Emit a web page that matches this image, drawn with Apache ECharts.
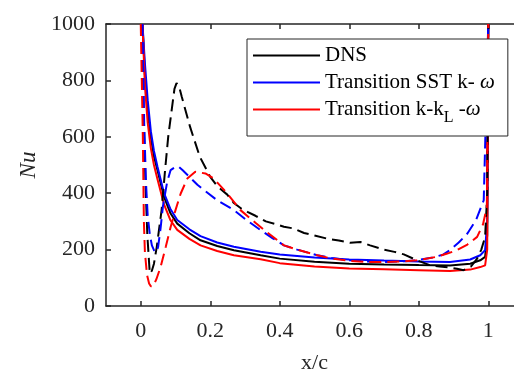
<!DOCTYPE html>
<html><head><meta charset="utf-8">
<script src="https://cdn.jsdelivr.net/npm/echarts@6/dist/echarts.min.js"></script>
<style>html,body{margin:0;padding:0;background:#fff}#c{width:514px;height:369px}</style>
</head><body><div id="c"></div>
<script>
// ---- data (x/c, Nu) ----
const xTicks = [0, 0.2, 0.4, 0.6, 0.8, 1];
const yTicks = [0, 200, 400, 600, 800, 1000];
const legendNames = ['DNS', 'Transition SST k-ω', 'Transition k-kL-ω'];

// solid curves (pressure side)
const solidX = [0.005, 0.012, 0.02, 0.029, 0.038, 0.048, 0.067, 0.085, 0.105, 0.14, 0.172, 0.22, 0.268, 0.345, 0.4, 0.5, 0.6, 0.7, 0.8, 0.89, 0.948, 0.977, 0.991, 0.997, 1.0];
const dnsSolid = [1000, 820, 690, 600, 530, 482, 387, 330, 292, 258, 233, 213, 198, 180, 168, 157, 150, 147, 145, 144, 150, 162, 174, 250, 1000];
const sstSolid = [1000, 860, 730, 620, 550, 495, 400, 345, 305, 272, 248, 225, 210, 192, 183, 172, 165, 161, 158, 156, 165, 180, 198, 300, 1000];
const kklSolid = [1000, 780, 650, 560, 500, 450, 360, 305, 270, 238, 215, 195, 180, 166, 152, 140, 133, 130, 127, 124, 129, 138, 144, 200, 1000];

// dashed curves (suction side)
const dnsDashX = [0.003, 0.008, 0.014, 0.019, 0.026, 0.032, 0.038, 0.046, 0.06, 0.07, 0.079, 0.089, 0.097, 0.103, 0.11, 0.118, 0.142, 0.17, 0.2, 0.22, 0.249, 0.268, 0.29, 0.307, 0.33, 0.36, 0.39, 0.412, 0.44, 0.47, 0.5, 0.536, 0.57, 0.603, 0.632, 0.66, 0.699, 0.73, 0.757, 0.795, 0.833, 0.86, 0.891, 0.91, 0.929, 0.95, 0.968, 0.98, 0.991, 0.997, 1.0];
const dnsDash = [1000, 700, 420, 250, 115, 125, 150, 209, 340, 482, 600, 695, 770, 790, 780, 742, 635, 529, 458, 425, 395, 365, 345, 334, 320, 300, 290, 281, 275, 259, 250, 239, 232, 224, 227, 215, 200, 192, 183, 162, 144, 140, 136, 132, 127, 140, 168, 200, 245, 400, 1000];

const sstDashX = [0.005, 0.01, 0.015, 0.02, 0.026, 0.032, 0.038, 0.045, 0.05, 0.057, 0.064, 0.076, 0.086, 0.1, 0.108, 0.12, 0.14, 0.163, 0.183, 0.22, 0.268, 0.305, 0.345, 0.38, 0.412, 0.45, 0.508, 0.55, 0.603, 0.65, 0.7, 0.75, 0.795, 0.84, 0.87, 0.89, 0.915, 0.94, 0.965, 0.987, 1.0];
const sstDash = [1000, 640, 440, 320, 255, 215, 198, 190, 210, 275, 355, 440, 482, 493, 495, 482, 458, 430, 410, 375, 340, 304, 269, 240, 215, 200, 180, 170, 162, 158, 156, 158, 162, 172, 182, 198, 225, 257, 305, 375, 1000];

const kklDashX = [0.0, 0.006, 0.009, 0.012, 0.018, 0.024, 0.029, 0.036, 0.045, 0.057, 0.072, 0.086, 0.1, 0.115, 0.134, 0.157, 0.186, 0.21, 0.249, 0.287, 0.33, 0.36, 0.412, 0.45, 0.508, 0.55, 0.603, 0.65, 0.7, 0.75, 0.795, 0.85, 0.88, 0.91, 0.94, 0.968, 0.985, 0.996, 1.0];
const kklDash = [1000, 600, 300, 190, 110, 80, 70, 70, 95, 138, 210, 280, 340, 399, 452, 476, 470, 452, 399, 340, 295, 265, 215, 200, 180, 168, 160, 156, 156, 158, 162, 174, 185, 198, 218, 245, 290, 351, 1000];

const colors = ['#000000', '#0000ff', '#ff0000'];
// ---------------------------

function zip(xs, ys) { return xs.map((x, i) => [x, ys[i]]); }
const FONT = 'Liberation Serif';
const AX = '#262626';

function lineSeries(name, xs, ys, color, dashed) {
  return {
    name: name, type: 'line', data: zip(xs, ys), showSymbol: false, symbol: 'none',
    lineStyle: { color: color, width: 2, type: dashed ? [12, 6] : 'solid' },
    itemStyle: { color: color }, animation: false, clip: true, z: 2
  };
}

const chart = echarts.init(document.getElementById('c'), null, { renderer: 'canvas' });
chart.setOption({
  animation: false,
  backgroundColor: '#fff',
  grid: { left: 106, top: 24, width: 417, height: 282, containLabel: false, outerBoundsMode: 'none' },
  xAxis: [{
    type: 'value', min: -0.1, max: 1.1, position: 'bottom',
    name: 'x/c', nameLocation: 'middle', nameGap: 46,
    nameTextStyle: { fontFamily: FONT, fontSize: 22, color: AX },
    axisLine: { show: true, onZero: false, lineStyle: { color: AX, width: 1.5 } },
    axisTick: { show: true, inside: true, length: 5, customValues: xTicks, lineStyle: { color: AX, width: 1.5 } },
    axisLabel: { customValues: xTicks, fontFamily: FONT, fontSize: 22, color: AX, margin: 14,
      formatter: v => String(Math.round(v * 10) / 10) },
    splitLine: { show: false }
  }, {
    type: 'value', min: -0.1, max: 1.1, position: 'top',
    axisLine: { show: true, onZero: false, lineStyle: { color: AX, width: 1.5 } },
    axisTick: { show: true, inside: true, length: 5, customValues: xTicks, lineStyle: { color: AX, width: 1.5 } },
    axisLabel: { show: false }, splitLine: { show: false }
  }],
  yAxis: [{
    type: 'value', min: 0, max: 1000, interval: 200,
    name: 'Nu', nameLocation: 'middle', nameGap: 64,
    nameTextStyle: { fontFamily: FONT, fontSize: 23, fontStyle: 'italic', color: AX },
    axisLine: { show: true, onZero: false, lineStyle: { color: AX, width: 1.5 } },
    axisTick: { show: true, inside: true, length: 5, lineStyle: { color: AX, width: 1.5 } },
    axisLabel: { fontFamily: FONT, fontSize: 22, color: AX, margin: 11, formatter: v => String(v) },
    splitLine: { show: false }
  }],
  legend: {
    data: legendNames, orient: 'vertical', left: 247, top: 39,
    selectedMode: false, icon: 'rect', itemWidth: 67, itemHeight: 2, itemGap: 6,
    padding: [6, 13, 10, 6], backgroundColor: '#fff', borderColor: AX, borderWidth: 1,
    textStyle: {
      fontFamily: FONT, fontSize: 21, color: '#000', lineHeight: 21,
      rich: {
        a: { fontFamily: FONT, fontSize: 21, color: '#000', verticalAlign: 'top', lineHeight: 21 },
        s: { fontFamily: FONT, fontSize: 16, color: '#000', verticalAlign: 'top', lineHeight: 16, padding: [11, 0, 0, 0] },
        w: { fontFamily: FONT, fontSize: 21, color: '#000', fontStyle: 'italic', verticalAlign: 'top', lineHeight: 21 }
      }
    },
    formatter: function (name) {
      if (name === legendNames[1]) return '{a|Transition SST k- }{w|ω}';
      if (name === legendNames[2]) return '{a|Transition k-k}{s|L}{a| -}{w|ω}';
      return '{a|' + name + '}';
    },
    z: 10
  },
  series: [
    lineSeries(legendNames[0], solidX, dnsSolid, colors[0], false),
    lineSeries(legendNames[1], solidX, sstSolid, colors[1], false),
    lineSeries(legendNames[2], solidX, kklSolid, colors[2], false),
    lineSeries('DNS suction', dnsDashX, dnsDash, colors[0], true),
    lineSeries('SST suction', sstDashX, sstDash, colors[1], true),
    lineSeries('kkL suction', kklDashX, kklDash, colors[2], true)
  ]
});
</script></body></html>
